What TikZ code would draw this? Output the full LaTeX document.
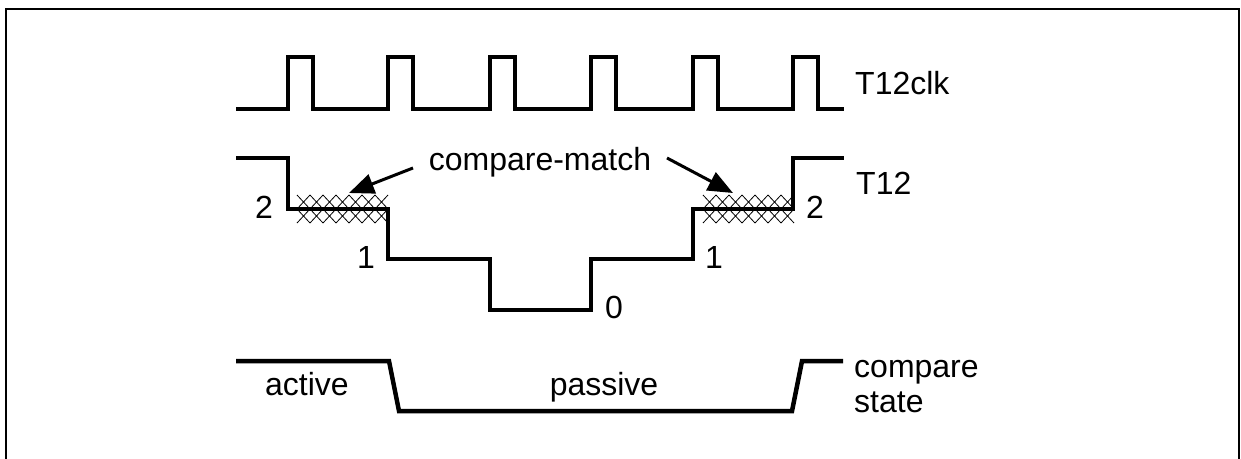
\documentclass[tikz,border=0pt]{standalone}
\usepackage{fontspec}
\setmainfont{Liberation Sans}
\usetikzlibrary{arrows.meta}
\begin{document}
\begin{tikzpicture}[x=1pt,y=-1pt,
  signal/.style={line width=4.5pt,line join=miter},
  frameline/.style={line width=2.5pt},
  hatch/.style={line width=0.8pt},
  callout/.style={line width=3pt,-{Triangle[length=25pt,width=20pt]}},
  lbl/.style={font=\fontsize{32}{36}\selectfont,inner sep=0pt}]
\useasboundingbox (0,0) rectangle (1241,458);
\draw[frameline] (6,470) -- (6,9) -- (1239,9) -- (1239,470);
% clock
\draw[signal] (236,109)
  \foreach \r in {288,388,490,591,693,793}{ -- (\r,109) -- (\r,57) -- (\r+25,57) -- (\r+25,109)}
  -- (844,109);
\node[lbl,anchor=west] (clk) at (855,83) {T12clk};
% crosshatch
\foreach \x in {297,703}{
  \foreach \t/\b in {195/209,209/223}{
    \foreach \i in {0,...,6}{
      \draw[hatch] (\x+13*\i,\t) -- (\x+13*\i+13,\b);
      \draw[hatch] (\x+13*\i+13,\t) -- (\x+13*\i,\b);
    }
  }
}
% T12
\draw[signal] (236,158) -- (288,158) -- (288,209) -- (388,209) -- (388,259) -- (490,259) -- (490,310) -- (591,310) -- (591,259) -- (693,259) -- (693,209) -- (793,209) -- (793,158) -- (844,158);
\node[lbl,anchor=west] (t12) at (856,183) {T12};
\node[lbl,anchor=base] (l2a) at (264,218) {2};
\node[lbl,anchor=base] (l1a) at (366,268) {1};
\node[lbl,anchor=base] (l0) at (614,318) {0};
\node[lbl,anchor=base] (l1b) at (714,268) {1};
\node[lbl,anchor=base] (l2b) at (815,218) {2};
\node[lbl,anchor=base] (cm) at (540,170) {compare-match};
\coordinate (cmL) at (413,168);
\coordinate (cmR) at (667,158);
\coordinate (tipL) at (349,193);
\coordinate (tipR) at (733,193);
\draw[callout] (cmL) -- (tipL);
\draw[callout] (cmR) -- (tipR);
% compare state
\draw[signal] (236,361) -- (389,361) -- (399,411) -- (792,411) -- (802,361) -- (843,361);
\node[lbl,anchor=base] (act) at (307,395) {active};
\node[lbl,anchor=base] (pas) at (604,395) {passive};
\node[lbl,anchor=base west,align=left] (cs1) at (854,377) {compare};
\node[lbl,anchor=base west,align=left] (cs2) at (854,412) {state};
\end{tikzpicture}
\end{document}
